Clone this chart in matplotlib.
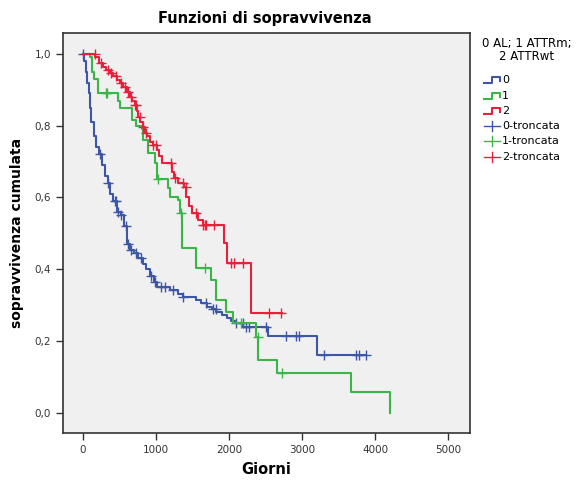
import numpy as np
import matplotlib
matplotlib.use("Agg")
import matplotlib.pyplot as plt
from matplotlib.lines import Line2D

# Kaplan-Meier steps (days, cumulative survival)
t0 = [0, 20, 40, 60, 80, 100, 120, 150, 180, 220, 260, 300, 340, 380, 420, 470,
      520, 570, 610, 650, 700, 760, 820, 870, 920, 970, 1020, 1200, 1300, 1370,
      1550, 1620, 1700, 1770, 1830, 1900, 1970, 2030, 2080, 2200, 2530, 3210, 3880]
s0 = [1.0, 0.98, 0.95, 0.92, 0.89, 0.85, 0.81, 0.77, 0.74, 0.72, 0.69, 0.66, 0.64,
      0.61, 0.59, 0.56, 0.55, 0.52, 0.47, 0.455, 0.445, 0.43, 0.415, 0.40, 0.38,
      0.365, 0.35, 0.343, 0.33, 0.323, 0.315, 0.305, 0.296, 0.288, 0.28, 0.273,
      0.265, 0.257, 0.25, 0.24, 0.215, 0.162, 0.162]

t1 = [0, 100, 130, 160, 205, 478, 505, 670, 730, 806, 830, 888, 983, 1010, 1161,
      1188, 1300, 1330, 1352, 1557, 1762, 1830, 1967, 2050, 2377, 2404, 2664,
      3675, 4208]
s1 = [1.0, 0.99, 0.95, 0.93, 0.89, 0.87, 0.85, 0.816, 0.80, 0.79, 0.76, 0.724,
      0.696, 0.65, 0.627, 0.60, 0.593, 0.557, 0.46, 0.404, 0.37, 0.315, 0.28,
      0.25, 0.21, 0.148, 0.11, 0.057, 0.0]

t2 = [0, 165, 220, 273, 320, 369, 420, 464, 505, 546, 600, 642, 680, 710, 740,
      760, 790, 820, 850, 880, 915, 960, 1010, 1050, 1080, 1215, 1250, 1300,
      1380, 1420, 1460, 1490, 1571, 1640, 1940, 1981, 2309, 2732]
s2 = [1.0, 0.99, 0.975, 0.964, 0.955, 0.947, 0.937, 0.928, 0.918, 0.908, 0.895,
      0.88, 0.868, 0.858, 0.84, 0.825, 0.81, 0.797, 0.78, 0.77, 0.755, 0.745,
      0.733, 0.715, 0.696, 0.67, 0.655, 0.64, 0.63, 0.60, 0.575, 0.557, 0.537,
      0.524, 0.473, 0.418, 0.278, 0.278]

# censored times
c0 = [5, 232, 346, 437, 460, 482, 528, 596, 619, 665, 733, 801, 938, 983, 1075,
      1120, 1234, 1370, 1690, 1780, 1826, 2100, 2190, 2236, 2281, 2510, 2783,
      2919, 2964, 3306, 3740, 3785, 3880]
c1 = [323, 337, 1029, 1348, 1667, 2168, 2395, 2728]
c2 = [164, 255, 346, 392, 460, 528, 574, 619, 665, 710, 733, 779, 824, 870, 960,
      1006, 1211, 1257, 1370, 1417, 1553, 1640, 1667, 1690, 1803, 2031, 2077,
      2190, 2555, 2714]

groups = ["0", "1", "2"]
colors = ["#3D56A6", "#3AB54A", "#E8203C"]
xticks = [0, 1000, 2000, 3000, 4000, 5000]
yticks = [0.0, 0.2, 0.4, 0.6, 0.8, 1.0]


def surv_at(t, s, tc):
  idx = np.searchsorted(t, tc, side="right") - 1
  return np.asarray(s)[np.clip(idx, 0, len(s) - 1)]


fig = plt.figure(figsize=(5.85, 4.83), dpi=100)
ax = fig.add_axes([63 / 585, 1 - 433 / 483, (470 - 63) / 585, (433 - 33) / 483])
ax.set_facecolor("#F0F0F0")

for t, s, c, col in zip([t0, t1, t2], [s0, s1, s2], [c0, c1, c2], colors):
  ax.step(t, s, where="post", color=col, lw=1.5)
  ax.plot(c, surv_at(t, s, c), "+", color=col, ms=7, mew=1.0, ls="none")

ax.set_xlim(-270, 5300)
ax.set_ylim(-0.056, 1.058)
ax.set_xticks(xticks)
ax.set_xticklabels([str(x) for x in xticks], fontsize=7.5, color="#333333")
ax.set_yticks(yticks)
ax.set_yticklabels([f"{y:.1f}".replace(".", ",") for y in yticks], fontsize=7.5,
                   color="#333333")
ax.tick_params(direction="out", length=5, width=1, color="#333333")
for sp in ax.spines.values():
  sp.set_color("#333333")
  sp.set_linewidth(1.2)

ax.set_xlabel("Giorni", fontsize=10.5, fontweight="bold", labelpad=5)
ax.set_ylabel("sopravvivenza cumulata", fontsize=10, fontweight="bold", labelpad=8)
fig.text(265 / 585, 1 - 18 / 483, "Funzioni di sopravvivenza", ha="center",
         va="center", fontsize=10.5, fontweight="bold")

# legend drawn by hand, SPSS style
def fx(px):
  return px / 585

def fy(py):
  return 1 - py / 483

fig.text(fx(527), fy(43), "0 AL; 1 ATTRm;", ha="center", va="center", fontsize=8.5)
fig.text(fx(527), fy(57), "2 ATTRwt", ha="center", va="center", fontsize=8.5)

ys = [80, 96, 111]
for g, col, y in zip(groups, colors, ys):
  xs = [484, 492, 492, 500, 500]
  yy = [y + 3, y + 3, y - 3, y - 3, y + 1]
  fig.add_artist(Line2D([fx(v) for v in xs], [fy(v) for v in yy], color=col, lw=1.5))
  fig.text(fx(502), fy(y), g, ha="left", va="center", fontsize=8)

ys = [126, 141, 157]
for g, col, y in zip(groups, colors, ys):
  fig.add_artist(Line2D([fx(484), fx(500)], [fy(y), fy(y)], color=col, lw=1))
  fig.add_artist(Line2D([fx(492), fx(492)], [fy(y - 5), fy(y + 5)], color=col, lw=1))
  fig.text(fx(502), fy(y), f"{g}-troncata", ha="left", va="center", fontsize=8)

fig.savefig("out.png", dpi=100)
